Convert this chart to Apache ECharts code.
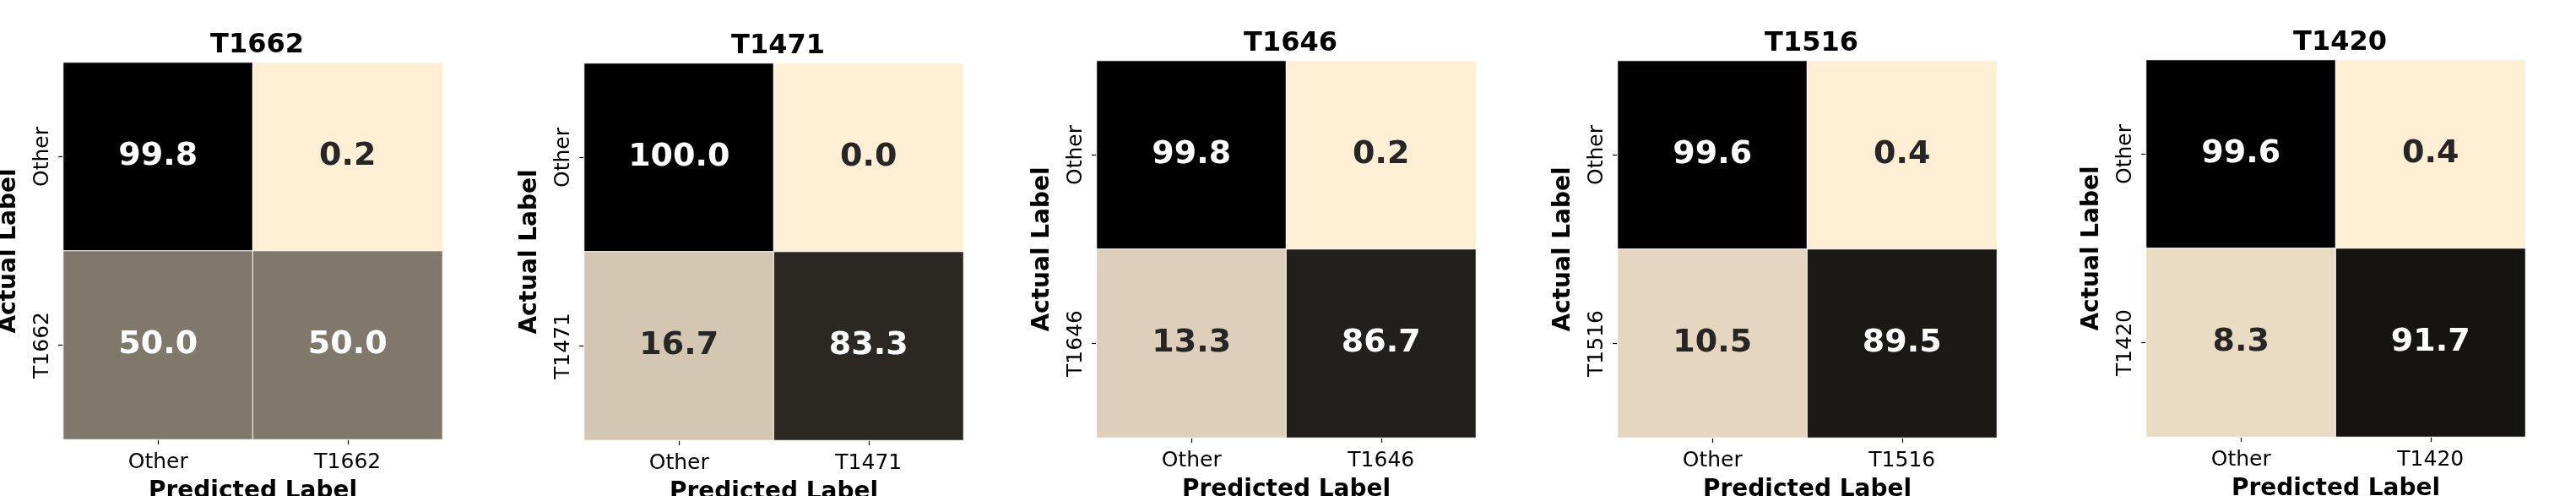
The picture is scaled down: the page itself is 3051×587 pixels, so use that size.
<!DOCTYPE html>
<html>
<head>
<meta charset="utf-8">
<title>Confusion matrices</title>
<script src="https://cdn.jsdelivr.net/npm/echarts@6/dist/echarts.min.js"></script>
<style>
  html, body { margin: 0; padding: 0; background: #fff; }
  #chart { width: 3051px; height: 587px; }
</style>
</head>
<body>
<div id="chart"></div>
<script>
// one confusion matrix per target, rows = actual, cols = predicted (percent)
const targets = ['T1662', 'T1471', 'T1646', 'T1516', 'T1420']
const cm_T1662 = [[99.8, 0.2], [50.0, 50.0]]
const cm_T1471 = [[100.0, 0.0], [16.7, 83.3]]
const cm_T1646 = [[99.8, 0.2], [13.3, 86.7]]
const cm_T1516 = [[99.6, 0.4], [10.5, 89.5]]
const cm_T1420 = [[99.6, 0.4], [8.3, 91.7]]
const matrices = [cm_T1662, cm_T1471, cm_T1646, cm_T1516, cm_T1420]

// panel placement (px)
const lefts = [75, 692, 1299, 1916, 2542]
const tops = [74, 75, 72, 72, 71]
const cellW = 449
const cellH = 446

const font = 'DejaVu Sans'
const lowColor = '#FFEFD5'
const highColor = '#000000'

// seaborn style: dark text on light cells, white on dark ones
function textColor(v) {
  const t = v / 100
  const c = [255, 239, 213].map(x => x * (1 - t) / 255)
  const lin = c.map(x => x <= 0.03928 ? x / 12.92 : Math.pow((x + 0.055) / 1.055, 2.4))
  const lum = 0.2126 * lin[0] + 0.7152 * lin[1] + 0.0722 * lin[2]
  return lum > 0.408 ? '#262626' : '#ffffff'
}

let chart = echarts.init(document.getElementById('chart'), null, { renderer: 'canvas' })

let title = [], grid = [], xAxis = [], yAxis = [], visualMap = [], series = []

targets.forEach((name, i) => {
  const cats = ['Other', name]
  // outerBoundsMode none: keep the grid where it is, v6 would shrink it otherwise
  grid.push({ left: lefts[i], top: tops[i], width: cellW, height: cellH, outerBoundsMode: 'none' })
  title.push({
    text: name,
    left: lefts[i] + cellW / 2,
    top: tops[i] - 41,
    textAlign: 'center',
    textStyle: { fontFamily: font, fontSize: 32, fontWeight: 'bold', color: '#000' }
  })
  xAxis.push({
    type: 'category',
    gridIndex: i,
    data: cats,
    position: 'bottom',
    axisLine: { show: false },
    axisTick: { show: true, alignWithLabel: true, length: 6, lineStyle: { color: '#000', width: 1.2 } },
    axisLabel: { fontFamily: font, fontSize: 25, color: '#000', margin: 15 },
    splitLine: { show: false },
    name: 'Predicted Label',
    nameLocation: 'middle',
    nameGap: 48,
    nameMoveOverlap: false,
    nameTextStyle: { fontFamily: font, fontSize: 28, fontWeight: 'bold', color: '#000' }
  })
  yAxis.push({
    type: 'category',
    gridIndex: i,
    data: cats,
    inverse: true,
    axisLine: { show: false },
    axisTick: { show: true, alignWithLabel: true, length: 6, lineStyle: { color: '#000', width: 1.2 } },
    axisLabel: { fontFamily: font, fontSize: 25, color: '#000', rotate: 90, margin: 12 },
    splitLine: { show: false },
    name: 'Actual Label',
    nameLocation: 'middle',
    nameRotate: 90,
    nameGap: 50,
    nameMoveOverlap: false,
    nameTextStyle: { fontFamily: font, fontSize: 28, fontWeight: 'bold', color: '#000' }
  })
  visualMap.push({
    show: false,
    seriesIndex: i,
    min: 0,
    max: 100,
    inRange: { color: [lowColor, highColor] }
  })
  let data = []
  matrices[i].forEach((row, r) => {
    row.forEach((v, c) => {
      data.push({ value: [c, r, v], label: { color: textColor(v) } })
    })
  })
  series.push({
    type: 'heatmap',
    xAxisIndex: i,
    yAxisIndex: i,
    data: data,
    itemStyle: { borderColor: '#fff', borderWidth: 1 },
    label: {
      show: true,
      fontFamily: font,
      fontSize: 38,
      fontWeight: 'bold',
      formatter: p => p.value[2].toFixed(1)
    },
    emphasis: { disabled: true }
  })
})

chart.setOption({
  animation: false,
  backgroundColor: '#fff',
  title: title,
  grid: grid,
  xAxis: xAxis,
  yAxis: yAxis,
  visualMap: visualMap,
  series: series
})
</script>
</body>
</html>
